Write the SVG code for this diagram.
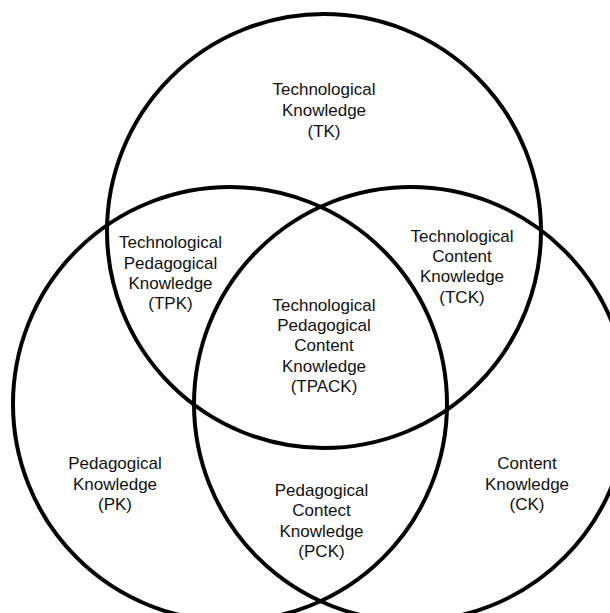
<svg xmlns="http://www.w3.org/2000/svg" width="610" height="613" viewBox="0 0 610 613">
<style>
.c{fill:none;stroke:#000;stroke-width:4}
.t{font-family:"Liberation Sans",Arial,sans-serif;font-size:17px;fill:#111;text-anchor:middle}
</style>
<rect width="610" height="613" fill="#fff"/>
<g id="connectors"></g>
<g id="TK-circle"><circle class="c" cx="324" cy="231" r="217"/></g>
<g id="PK-circle"><circle class="c" cx="230" cy="404" r="217"/></g>
<g id="CK-circle"><circle class="c" cx="411" cy="404" r="217"/></g>
<g id="TK"><text class="t" x="324" y="95">Technological</text><text class="t" x="324" y="116">Knowledge</text><text class="t" x="324" y="137">(TK)</text></g>
<g id="TPK"><text class="t" x="170.5" y="248">Technological</text><text class="t" x="170.5" y="268.5">Pedagogical</text><text class="t" x="170.5" y="289">Knowledge</text><text class="t" x="170.5" y="309">(TPK)</text></g>
<g id="TCK"><text class="t" x="462" y="241.5">Technological</text><text class="t" x="462" y="262">Content</text><text class="t" x="462" y="282">Knowledge</text><text class="t" x="462" y="302.5">(TCK)</text></g>
<g id="TPACK"><text class="t" x="324" y="311">Technological</text><text class="t" x="324" y="331">Pedagogical</text><text class="t" x="324" y="351">Content</text><text class="t" x="324" y="371.5">Knowledge</text><text class="t" x="324" y="391.5">(TPACK)</text></g>
<g id="PK"><text class="t" x="115" y="469">Pedagogical</text><text class="t" x="115" y="489.5">Knowledge</text><text class="t" x="115" y="510">(PK)</text></g>
<g id="PCK"><text class="t" x="321.5" y="496">Pedagogical</text><text class="t" x="321.5" y="516">Contect</text><text class="t" x="321.5" y="536.5">Knowledge</text><text class="t" x="321.5" y="557">(PCK)</text></g>
<g id="CK"><text class="t" x="527" y="469">Content</text><text class="t" x="527" y="489.5">Knowledge</text><text class="t" x="527" y="510">(CK)</text></g>
</svg>
